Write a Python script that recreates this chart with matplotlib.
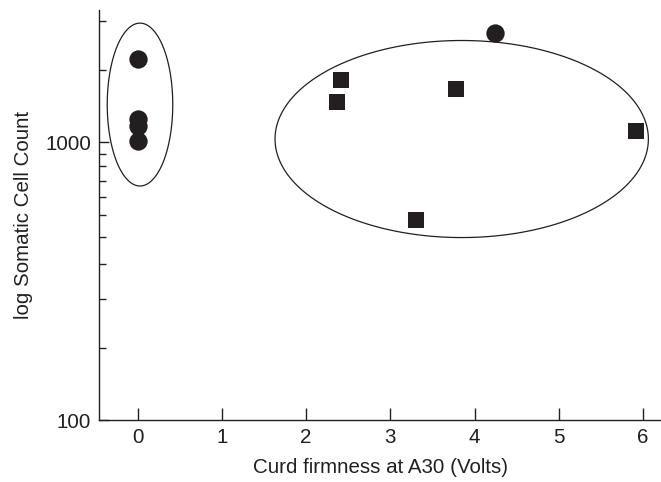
import numpy as np
import matplotlib
matplotlib.use("Agg")
import matplotlib.pyplot as plt
from matplotlib.ticker import FixedLocator, NullFormatter

plt.rcParams['font.family'] = ['Liberation Sans', 'DejaVu Sans']

# Data
circle_x = [0.0, 0.0, 0.0, 0.0, 4.24]
circle_y = [1994, 1214, 1139, 1008, 2465]
square_x = [2.41, 2.37, 3.78, 5.92, 3.30]
square_y = [1666, 1392, 1547, 1093, 523]

x_ticks = [0, 1, 2, 3, 4, 5, 6]
y_ticks = [100, 1000]
y_tick_labels = ["100", "1000"]

# Ellipses: (center x, half width x, center log10 y, half height in decades)
ellipse_left = (0.027, 0.389, 3.135, 0.293)
ellipse_right = (3.848, 2.217, 3.011, 0.3545)

ink = '#231f20'
fs = 14.8

fig = plt.figure(figsize=(6.61, 4.82), dpi=100)
ax = fig.add_axes([0.1504, 0.1286, 0.8496, 0.8505])
ax.set_yscale('log')
ax.set_xlim(-0.455, 6.215)
ax.set_ylim(100, 10 ** 3.475)

ax.plot(circle_x, circle_y, 'o', color=ink, markersize=13.2, markeredgewidth=0)
ax.plot(square_x, square_y, 's', color=ink, markersize=11.8, markeredgewidth=0)

t = np.linspace(0, 2 * np.pi, 400, endpoint=False)
for cx, a, cly, b in (ellipse_left, ellipse_right):
    ax.fill(cx + a * np.cos(t), 10 ** (cly + b * np.sin(t)), fill=False,
            edgecolor=ink, lw=0.9, joinstyle='round')

for s in ('top', 'right'):
    ax.spines[s].set_visible(False)
for s in ('left', 'bottom'):
    ax.spines[s].set_linewidth(1.0)
    ax.spines[s].set_color(ink)

ax.set_xticks(x_ticks)
ax.set_xticklabels([str(v) for v in x_ticks])
ax.yaxis.set_major_locator(FixedLocator(y_ticks))
ax.set_yticklabels(y_tick_labels)
minor = [k * 1000 / 11 for k in range(2, 11)] + [k * 10000 / 11 for k in range(2, 4)]
ax.yaxis.set_minor_locator(FixedLocator(minor))
ax.yaxis.set_minor_formatter(NullFormatter())

ax.tick_params(axis='x', direction='in', length=9, width=1.0, color=ink, labelsize=fs, pad=6, labelcolor=ink)
ax.tick_params(axis='y', which='major', direction='in', length=7, width=1.0, color=ink, labelsize=fs, pad=6, labelcolor=ink)
ax.tick_params(axis='y', which='minor', direction='in', length=5, width=1.0, color=ink)

ax.set_xlabel('Curd firmness at A30 (Volts)', fontsize=fs, color=ink, labelpad=8)
ax.set_ylabel('log Somatic Cell Count', fontsize=fs, color=ink, labelpad=9)

fig.savefig('out.png', dpi=100)
